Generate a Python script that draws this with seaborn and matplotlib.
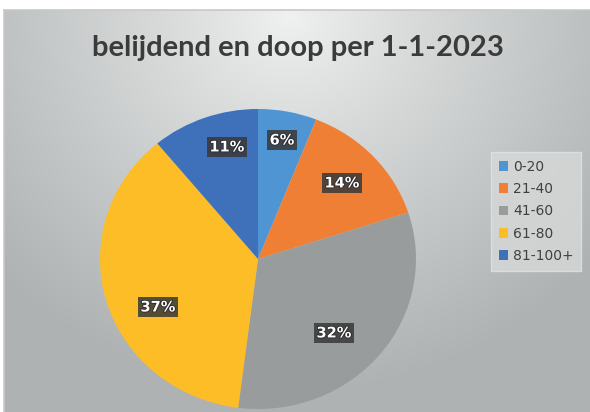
import numpy as np
import matplotlib
matplotlib.use("Agg")
import matplotlib.pyplot as plt
import matplotlib.patheffects as pe
import seaborn as sns

categories = ["0-20", "21-40", "41-60", "61-80", "81-100+"]
values = [6, 14, 32, 37, 11]
pct_labels = ["6%", "14%", "32%", "37%", "11%"]
colors = ["#4f95d3", "#ef7f35", "#999c9c", "#fdbd27", "#3f70ba"]
title = "belijdend en doop per 1-1-2023"

# label anchor positions (axes data units, pie radius = 1)
label_pos = [(0.152, 0.793), (0.532, 0.507), (0.481, -0.493),
             (-0.633, -0.320), (-0.196, 0.747)]

sns.set_style("white")
plt.rcParams['font.family'] = ['Lato', 'DejaVu Sans']

W, H = 590, 412
fig = plt.figure(figsize=(W / 100, H / 100), dpi=100)
fig.patch.set_facecolor("white")

# background gradient panel
x0, ytop = 4, 10
bg = fig.add_axes([x0 / W, 0, (W - x0) / W, (H - ytop) / H])
bw, bh = W - x0, H - ytop
yy, xx = np.mgrid[0:bh, 0:bw]
d = np.sqrt(((xx - 285) / 1.0) ** 2 + ((yy - 5) / 0.95) ** 2)
t = np.clip(d / 400.0, 0, 1) ** 0.9
light = np.array([240, 241, 241]) / 255
dark = np.array([174, 178, 178]) / 255
img = light[None, None, :] * (1 - t[..., None]) + dark[None, None, :] * t[..., None]
bg.imshow(img, aspect="auto", extent=[0, 1, 0, 1], origin="upper")
bg.set_xlim(0, 1)
bg.set_ylim(0, 1)
bg.axis("off")
bg.plot([0, 0], [0, 1], color="#c8c8c8", lw=1.2, transform=bg.transAxes, clip_on=False)
bg.plot([0, 1], [1, 1], color="#c8c8c8", lw=1.2, transform=bg.transAxes, clip_on=False)

# pie axes
left, right, top, bottom = 100, 416, 109, 409
ax = fig.add_axes([left / W, (H - bottom) / H, (right - left) / W, (bottom - top) / H])
ax.patch.set_alpha(0)
pal = sns.color_palette(colors)
wedges, _ = ax.pie(values, colors=pal, startangle=90, counterclock=False,
                   radius=1.0, wedgeprops=dict(linewidth=0))
ax.set_aspect("auto")
ax.set_xlim(-1, 1)
ax.set_ylim(-1, 1)
ax.axis("off")

# percentage labels
for (x, y), lab in zip(label_pos, pct_labels):
    ax.text(x, y, lab, ha="center", va="center", color="white", fontsize=10.5,
            fontweight="bold", family="DejaVu Sans",
            bbox=dict(boxstyle="square,pad=0.15", fc="#383838", ec="none", alpha=0.85),
            path_effects=[pe.withStroke(linewidth=1.2, foreground="#2a2a2a")])

# title
fig.text(298 / W, 1 - 48 / H, title, ha="center", va="center", fontsize=21,
         fontweight="bold", color="#3b3b3b")

# legend
leg = fig.legend(wedges, categories, loc="upper left",
                 bbox_to_anchor=(491 / W, 1 - 152 / H), frameon=True,
                 prop={"family": "DejaVu Sans", "size": 10},
                 handlelength=0.7, handleheight=0.7,
                 handletextpad=0.35, labelspacing=0.6, borderpad=0.55,
                 borderaxespad=0, fancybox=False)
leg.get_frame().set_facecolor("#d8d9d9")
leg.get_frame().set_edgecolor("#e2e3e3")
leg.get_frame().set_linewidth(1.0)
for txt in leg.get_texts():
    txt.set_color("#404040")

fig.savefig("out.png", dpi=100)
